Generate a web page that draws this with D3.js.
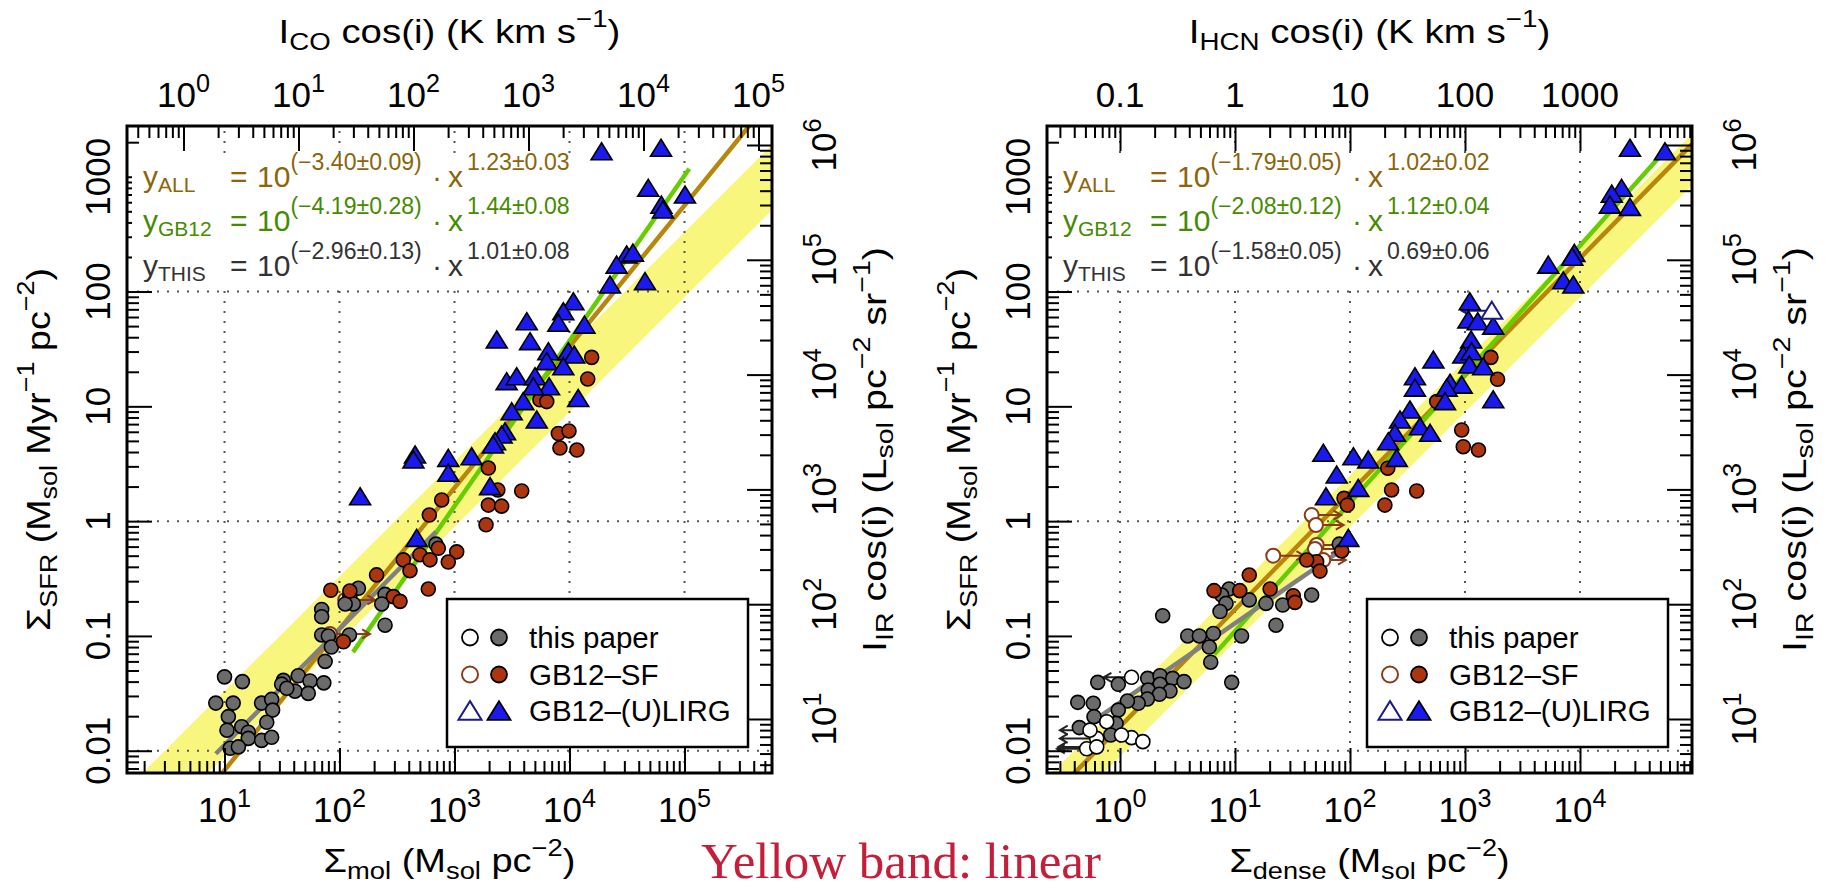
<!DOCTYPE html>
<html>
<head>
<meta charset="utf-8">
<script src="https://cdn.jsdelivr.net/npm/d3@7"></script>
<style>
  body { margin: 0; background: #fff; }
  svg { display: block; }
  text { font-family: "Liberation Sans", Arial, Helvetica, sans-serif; }
</style>
</head>
<body>
<svg id="chart" width="1829" height="889"></svg>
<script>
// ---- data ----
// left panel: x = Sigma_mol, y = Sigma_SFR
const molThis = [[690,0.63],[146,0.26],[123,0.22],[132,0.19],[112,0.19],[249,0.23],[233,0.19],[70,0.17],[70,0.147],
  [249,0.124],[70,0.102],[80,0.1],[122,0.102],[85,0.08],[75,0.06],[10,0.044],[14.3,0.04],[32.5,0.041],[31.4,0.038],
  [43.8,0.045],[55.4,0.0405],[73,0.039],[41,0.033],[53.5,0.0316],[34.8,0.035],[8.4,0.026],[11.9,0.026],[21,0.026],
  [25.7,0.028],[26.2,0.0226],[10.8,0.0198],[23.3,0.0177],[10.5,0.0151],[14.1,0.0162],[16.1,0.0145],[16.1,0.0128],
  [21,0.0123],[25.7,0.0131],[11.2,0.0105],[13.2,0.0108]];
const molThisOpen = [];
const molSF = [[15600,26.7],[14400,17.3],[5530,11.4],[6340,11],[8000,5.8],[9900,6.1],[8260,4.33],[11600,4.16],
  [1970,2.9],[2380,1.87],[3840,1.83],[1970,1.38],[2570,1.35],[1880,0.93],[1045,0.54],[883,0.44],[774,1.53],
  [604,1.13],[359,0.46],[410,0.37],[501,0.51],[612,0.46],[723,0.58],[210,0.34],[592,0.256],[84,0.25],[123,0.246],
  [294,0.22],[336,0.2],[108,0.089]];
const molSFOpen = [[112,0.206,204],[82.6,0.104,184]];           // [x, y, arrow tip x]
const molLIRG = [[19000,1650],[62500,1770],[48400,793],[101000,693],[63000,566],[65000,513],[31400,208],[35600,216],
  [25700,170],[45400,122],[22500,114],[10800,81.5],[8830,66.7],[8000,52.9],[4250,54.6],[13500,51],[4540,36.6],
  [2330,37.8],[6550,29.9],[6340,24.5],[9770,29.9],[11000,28],[8830,22.1],[2840,16.4],[3470,18.1],[5010,18.1],
  [6640,14.8],[4840,14.8],[3960,11],[11900,11.7],[3140,8.97],[5190,7.6],[2750,6.0],[2570,5.62],[2250,4.92],
  [883,3.52],[1410,3.64],[2160,4.6],[883,2.61],[2040,2.0],[454,3.77],[439,3.41],[151,1.63],[469,0.708]];
const molLIRGOpen = [];

// right panel: x = Sigma_dense, y = Sigma_SFR
const denseThis = [[80.7,0.63],[46.4,0.227],[26,0.186],[18.6,0.192],[13.3,0.206],[22.7,0.124],[8.87,0.256],
  [7.65,0.227],[8.35,0.192],[7.41,0.163],[2.35,0.15],[3.88,0.1],[4.9,0.1],[6.48,0.105],[5.98,0.08],[11.4,0.1],
  [6.15,0.059],[9.36,0.0394],[0.64,0.0394],[0.966,0.0379],[1.74,0.0427],[2.23,0.045],[2.87,0.0427],[3.6,0.04],
  [2.23,0.0379],[1.76,0.0338],[2.72,0.0331],[2.2,0.031],[1.73,0.0282],[1.44,0.0259],[1.16,0.0271],[0.429,0.0264],
  [0.586,0.0259],[0.966,0.0226],[0.594,0.0198],[0.923,0.0173],[0.443,0.0159],[0.83,0.0137]];
const denseThisOpen = [[0.766,0.0179,null],[0.627,0.0128,0.30],[0.513,0.0104,0.283],[0.627,0.0108,0.29],
  [1.26,0.013,null],[1.58,0.012,null],[1.03,0.0137,null],[0.548,0.0151,0.30],[1.26,0.0436,0.72]];
const denseSF = [[1680,26.7],[1920,17.2],[567,11],[936,6.22],[966,4.45],[1310,4.16],[213,2.89],[230,1.87],
  [380,1.83],[201,1.38],[88.7,1.58],[94.8,1.38],[84.7,0.55],[51.3,0.443],[42,0.458],[54.8,0.367],[13.3,0.339],
  [20.2,0.256],[6.57,0.248],[11,0.248],[32.1,0.224],[33.2,0.196]];
const denseSFOpen = [[46.4,1.13,84],[50.6,0.925,88],[21.5,0.5,40],[51.3,0.62,85],[49.6,0.572,80],[58.6,0.458,92]];
const denseLIRG = [[27200,1770],[54800,1650],[23000,793],[18900,706],[18200,566],[27200,541],[5300,170],[8930,215],
  [8570,199],[7160,124],[8750,114],[1100,81.5],[1070,56.5],[1290,54.6],[1760,50],[1130,37.8],[531,25.3],[966,28],
  [1140,29.9],[1090,22.9],[1440,22.1],[367,18.1],[367,14.4],[741,15.9],[936,15.3],[693,14.4],[670,11],[1760,11.4],
  [332,9.29],[272,7.6],[406,6.64],[497,5.82],[246,5.82],[215,4.92],[58.6,3.9],[107,3.64],[144,3.41],[76.6,2.52],
  [118,1.93],[61.8,1.63],[96.7,0.708],[255,3.52]];
const denseLIRGOpen = [[1710,68.1,936]];

// power-law fits: y = 10^a * x^b
const fitNames = ["ALL", "GB12", "THIS"];
const molIntercept = [-3.40, -4.19, -2.96], molInterceptErr = [0.09, 0.28, 0.13];
const molSlope = [1.23, 1.44, 1.01], molSlopeErr = [0.03, 0.08, 0.08];
const molFitRange = [null, [131, 110000], [8.4, 690]];
const denseIntercept = [-1.79, -2.08, -1.58], denseInterceptErr = [0.05, 0.12, 0.05];
const denseSlope = [1.02, 1.12, 0.69], denseSlopeErr = [0.02, 0.04, 0.06];
const denseFitRange = [null, [6.6, 56000], [0.43, 81]];

// yellow linear band: Sigma_SFR / Sigma_gas (upper, lower)
const molBand = [3.3e-3, 8.9e-4];
const denseBand = [0.025, 0.0089];

// secondary axes conversions
const alphaCO = 4.4, alphaHCN = 10, sfrPerIR = 1.89e-3;
const gridY = [0.01, 1, 100];
const legendLabels = ["this paper", "GB12\u2013SF", "GB12\u2013(U)LIRG"];

// ---- drawing ----
const svg = d3.select("#chart");
const Y0 = 126, Y1 = 773, PW = 645;
const yDomain = [10 ** -2.194, 10 ** 3.442];
const textColors = ["#8b6508", "#458b00", "#333333"];
const lineColors = ["#b8860b", "#66cd00", "#808080"];
const bandColor = "#f8f67c";
const grayFill = "#6b6b6b", redFill = "#ad3510", blueFill = "#1a1aee";
const sfOpenColor = "#8b3a1a", lirgOpenColor = "#1a1a8b";

const panels = [
  { key: "mol", x0: 127, xDomain: [10 ** 0.152, 10 ** 5.761], alpha: alphaCO,
    thisPts: molThis, thisOpen: molThisOpen, sf: molSF, sfOpen: molSFOpen, lirg: molLIRG, lirgOpen: molLIRGOpen,
    a: molIntercept, aErr: molInterceptErr, b: molSlope, bErr: molSlopeErr, range: molFitRange, band: molBand,
    topSup: true,
    topTitle: [["I"], ["CO", "sub"], [" cos(i) (K km s"], ["\u22121", "sup"], [")"]], topLen: 342,
    botTitle: [["\u03a3"], ["mol", "sub"], [" (M"], ["sol", "sub"], [" pc"], ["\u22122", "sup"], [")"]], botLen: 252 },
  { key: "dense", x0: 1047, xDomain: [10 ** -0.635, 10 ** 4.974], alpha: alphaHCN,
    thisPts: denseThis, thisOpen: denseThisOpen, sf: denseSF, sfOpen: denseSFOpen, lirg: denseLIRG, lirgOpen: denseLIRGOpen,
    a: denseIntercept, aErr: denseInterceptErr, b: denseSlope, bErr: denseSlopeErr, range: denseFitRange, band: denseBand,
    topSup: false,
    topTitle: [["I"], ["HCN", "sub"], [" cos(i) (K km s"], ["\u22121", "sup"], [")"]], topLen: 362,
    botTitle: [["\u03a3"], ["dense", "sub"], [" (M"], ["sol", "sub"], [" pc"], ["\u22122", "sup"], [")"]], botLen: 280 }
];

const leftTitle = [["\u03a3"], ["SFR", "sub"], [" (M"], ["sol", "sub"], [" Myr"], ["\u22121", "sup"], [" pc"], ["\u22122", "sup"], [")"]];
const rightTitle = [["I"], ["IR", "sub"], [" cos(i) (L"], ["sol", "sub"], [" pc"], ["\u22122", "sup"], [" sr"], ["\u22121", "sup"], [")"]];

function logTicks([a, b]) {
  const major = [], minor = [];
  for (let e = Math.floor(Math.log10(a)); e <= Math.ceil(Math.log10(b)); e++) {
    for (let k = 1; k < 10; k++) {
      const v = k * 10 ** e;
      if (v < a * 0.9999 || v > b * 1.0001) continue;
      (k === 1 ? major : minor).push(v);
    }
  }
  return { major, minor };
}

// append rich text (sub/superscripts) as tspans
function rich(sel, parts, o = {}) {
  const sub = o.sub ?? 7, sup = o.sup ?? -16;
  let cur = 0;
  parts.forEach(([t, k]) => {
    const off = k === "sub" ? sub : k === "sup" ? sup : 0;
    sel.append("tspan")
      .attr("dy", off - cur)
      .attr("font-size", k === "sub" ? (o.subSize || "0.72em") : k === "sup" ? (o.supSize || "0.72em") : null)
      .text(t);
    cur = off;
  });
  return sel;
}

// axis title: centred at (cx, cy), rotated, glyphs stretched along the text to the measured length
function title(parent, parts, cx, cy, rot, target) {
  const gg = parent.append("g");
  const t = rich(gg.append("text").attr("text-anchor", "middle").attr("font-size", 33), parts);
  const sx = target / t.node().getComputedTextLength();
  gg.attr("transform", `translate(${cx},${cy}) rotate(${rot}) scale(${sx.toFixed(3)},1)`);
}

const tri = (cx, cy, s = 1) => `M${cx},${cy - 9 * s}L${cx + 10.5 * s},${cy + 8 * s}L${cx - 10.5 * s},${cy + 8 * s}Z`;
const arrow = (xs, xt, yy) => {
  const dir = Math.sign(xt - xs), h = 9;
  const hx = xt - dir * h * 0.866;
  return `M${xs},${yy}L${xt},${yy}M${hx},${yy - h * 0.5}L${xt},${yy}L${hx},${yy + h * 0.5}`;
};

panels.forEach(p => {
  const x1 = p.x0 + PW;
  const x = d3.scaleLog().domain(p.xDomain).range([p.x0, x1]);
  const y = d3.scaleLog().domain(yDomain).range([Y1, Y0]);
  const xTop = d3.scaleLog().domain(p.xDomain.map(v => v / p.alpha)).range([p.x0, x1]);
  const yRight = d3.scaleLog().domain(yDomain.map(v => v / sfrPerIR)).range([Y1, Y0]);

  const g = svg.append("g");
  const clipId = "clip-" + p.key;
  svg.append("clipPath").attr("id", clipId).append("rect")
    .attr("x", p.x0).attr("y", Y0).attr("width", PW).attr("height", Y1 - Y0);
  const plot = g.append("g").attr("clip-path", `url(#${clipId})`);

  // linear band
  const [xa, xb] = p.xDomain;
  plot.append("path")
    .attr("d", d3.line()([[x(xa), y(xa * p.band[0])], [x(xb), y(xb * p.band[0])],
                          [x(xb), y(xb * p.band[1])], [x(xa), y(xa * p.band[1])]]) + "Z")
    .attr("fill", bandColor);

  // dotted grid
  const xt = logTicks(p.xDomain);
  const gridStyle = s => s.attr("stroke", "#555").attr("stroke-width", 2).attr("stroke-dasharray", "2,8");
  plot.selectAll("line.gx").data(xt.major).join("line").attr("class", "gx")
    .attr("x1", d => x(d)).attr("x2", d => x(d)).attr("y1", Y1).attr("y2", Y0).call(gridStyle);
  plot.selectAll("line.gy").data(gridY).join("line").attr("class", "gy")
    .attr("y1", d => y(d)).attr("y2", d => y(d)).attr("x1", p.x0).attr("x2", x1).call(gridStyle);

  // fit lines
  fitNames.forEach((n, i) => {
    const r = p.range[i] || p.xDomain;
    const f = v => 10 ** (p.a[i] + p.b[i] * Math.log10(v));
    plot.append("path")
      .attr("d", d3.line()(r.map(v => [x(v), y(f(v))])))
      .attr("fill", "none").attr("stroke", lineColors[i]).attr("stroke-width", 4.5);
  });

  // limit arrows
  const arrows = [[p.sfOpen, sfOpenColor], [p.thisOpen, "#222"], [p.lirgOpen, lirgOpenColor]];
  arrows.forEach(([arr, col]) => {
    plot.append("g").selectAll("path").data(arr.filter(d => d[2] != null)).join("path")
      .attr("d", d => arrow(x(d[0]), x(d[2]), y(d[1])))
      .attr("fill", "none").attr("stroke", col).attr("stroke-width", 2);
  });

  const circles = (arr, fill, stroke, sw) => plot.append("g").selectAll("circle").data(arr).join("circle")
    .attr("cx", d => x(d[0])).attr("cy", d => y(d[1])).attr("r", 7)
    .attr("fill", fill).attr("stroke", stroke).attr("stroke-width", sw);
  circles(p.sfOpen, "#fff", sfOpenColor, 2);
  circles(p.thisPts, grayFill, "#000", 1.6);
  circles(p.thisOpen, "#fff", "#000", 1.6);
  circles(p.sf, redFill, "#000", 1.6);
  plot.append("g").selectAll("path").data(p.lirg).join("path")
    .attr("d", d => tri(x(d[0]), y(d[1]))).attr("fill", blueFill).attr("stroke", "#000").attr("stroke-width", 1.6);
  plot.append("g").selectAll("path").data(p.lirgOpen).join("path")
    .attr("d", d => tri(x(d[0]), y(d[1]))).attr("fill", "#fff").attr("stroke", lirgOpenColor).attr("stroke-width", 2);

  // ticks on all four sides, pointing inward
  const axisG = g.append("g");
  function drawAxis(gen, scale, ticks, transform) {
    [[ticks.major, 25], [ticks.minor, 12]].forEach(([vals, len]) => {
      axisG.append("g").attr("transform", transform)
        .call(gen(scale).tickValues(vals).tickSize(-len).tickFormat(() => ""))
        .call(s => s.select(".domain").remove())
        .selectAll("line").attr("stroke", "#000").attr("stroke-width", 2);
    });
  }
  const topTicks = logTicks(xTop.domain()), yt = logTicks(yDomain), rt = logTicks(yRight.domain());
  drawAxis(d3.axisBottom, x, xt, `translate(0,${Y1})`);
  drawAxis(d3.axisTop, xTop, topTicks, `translate(0,${Y0})`);
  drawAxis(d3.axisLeft, y, yt, `translate(${p.x0},0)`);
  drawAxis(d3.axisRight, yRight, rt, `translate(${x1},0)`);

  // white box behind the fit equations
  g.append("rect").attr("x", p.x0 + 5).attr("y", 153).attr("width", 443).attr("height", 136).attr("fill", "#fff");
  const rowY = [187, 231, 276];
  fitNames.forEach((n, i) => {
    const col = textColors[i];
    const eq = g.append("g").attr("fill", col).attr("font-size", 30);
    rich(eq.append("text").attr("x", p.x0 + 16).attr("y", rowY[i]), [["y"], [n, "sub"]], { sub: 5, subSize: "0.7em" });
    eq.append("text").attr("x", p.x0 + 103).attr("y", rowY[i]).text("=");
    const ea = (p.a[i] < 0 ? "\u2212" : "") + Math.abs(p.a[i]).toFixed(2) + "\u00b1" + p.aErr[i].toFixed(2);
    rich(eq.append("text").attr("x", p.x0 + 130).attr("y", rowY[i]), [["10"], ["(" + ea + ")", "sup"]],
      { sup: -17, supSize: "0.77em" });
    eq.append("text").attr("x", p.x0 + 310).attr("y", rowY[i]).attr("text-anchor", "middle").text("\u00b7");
    rich(eq.append("text").attr("x", p.x0 + 321).attr("y", rowY[i]),
      [["x"], [p.b[i].toFixed(2) + "\u00b1" + p.bErr[i].toFixed(2), "sup"]], { sup: -17, supSize: "0.77em" })
      .select("tspan:nth-child(2)").attr("dx", 4);
  });

  // legend
  const lg = g.append("g");
  lg.append("rect").attr("x", p.x0 + 320).attr("y", 599).attr("width", 301).attr("height", 148)
    .attr("fill", "#fff").attr("stroke", "#000").attr("stroke-width", 2.5);
  const ly = [637.5, 674.5, 711];
  const ox = p.x0 + 343, fx = p.x0 + 372;
  lg.append("circle").attr("cx", ox).attr("cy", ly[0]).attr("r", 8).attr("fill", "#fff").attr("stroke", "#000").attr("stroke-width", 1.8);
  lg.append("circle").attr("cx", fx).attr("cy", ly[0]).attr("r", 8).attr("fill", grayFill).attr("stroke", "#000").attr("stroke-width", 1.8);
  lg.append("circle").attr("cx", ox).attr("cy", ly[1]).attr("r", 8).attr("fill", "#fff").attr("stroke", sfOpenColor).attr("stroke-width", 2);
  lg.append("circle").attr("cx", fx).attr("cy", ly[1]).attr("r", 8).attr("fill", redFill).attr("stroke", "#000").attr("stroke-width", 1.8);
  lg.append("path").attr("d", tri(ox, ly[2], 1.1)).attr("fill", "#fff").attr("stroke", lirgOpenColor).attr("stroke-width", 2);
  lg.append("path").attr("d", tri(fx, ly[2], 1.1)).attr("fill", blueFill).attr("stroke", "#000").attr("stroke-width", 1.8);
  lg.selectAll("text").data(legendLabels).join("text")
    .attr("x", p.x0 + 402).attr("y", (d, i) => ly[i] + 10).attr("font-size", 29.5).text(d => d);

  // frame
  g.append("rect").attr("x", p.x0).attr("y", Y0).attr("width", PW).attr("height", Y1 - Y0)
    .attr("fill", "none").attr("stroke", "#000").attr("stroke-width", 3);

  // tick labels
  const lab = g.append("g").attr("font-size", 35).attr("fill", "#000");
  const e10 = v => Math.round(Math.log10(v));
  lab.selectAll("text.bx").data(xt.major).join("text").attr("class", "bx")
    .attr("x", d => x(d)).attr("y", 822).attr("text-anchor", "middle")
    .each(function (d) { rich(d3.select(this), [["10"], [String(e10(d)), "sup"]], { sup: -15 }); });
  lab.selectAll("text.tx").data(topTicks.major).join("text").attr("class", "tx")
    .attr("x", d => xTop(d)).attr("y", 107).attr("text-anchor", "middle")
    .each(function (d) {
      if (p.topSup) rich(d3.select(this), [["10"], [String(e10(d)), "sup"]], { sup: -15 });
      else d3.select(this).text(d3.format("~g")(d));
    });
  lab.selectAll("text.ly").data(yt.major).join("text").attr("class", "ly")
    .attr("transform", d => `translate(${p.x0 - 17},${y(d)}) rotate(-90)`).attr("text-anchor", "middle")
    .text(d => d3.format("~g")(d));
  lab.selectAll("text.ry").data(rt.major).join("text").attr("class", "ry")
    .attr("transform", d => `translate(${x1 + 64},${yRight(d)}) rotate(-90)`).attr("text-anchor", "middle")
    .each(function (d) { rich(d3.select(this), [["10"], [String(e10(d)), "sup"]], { sup: -15 }); });

  // axis titles
  const cx = p.x0 + PW / 2, cy = (Y0 + Y1) / 2;
  title(lab, p.topTitle, cx, 43, 0, p.topLen);
  title(lab, p.botTitle, cx, 872, 0, p.botLen);
  title(lab, leftTitle, p.x0 - 77, cy, -90, 363);
  title(lab, rightTitle, x1 + 114, cy, -90, 405);
});

svg.append("text").attr("x", 701).attr("y", 878)
  .style("font-family", "'Liberation Serif', 'Times New Roman', serif")
  .attr("font-size", 51).attr("fill", "#c41e3a").text("Yellow band: linear");
</script>
</body>
</html>
